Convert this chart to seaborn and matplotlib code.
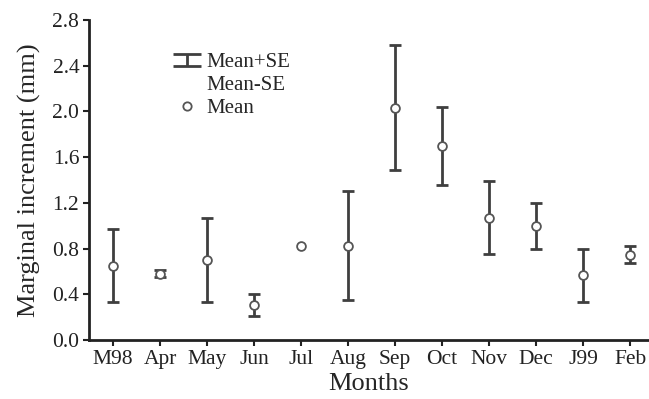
import matplotlib
matplotlib.use("Agg")
import matplotlib.pyplot as plt
import seaborn as sns
import pandas as pd
from matplotlib.lines import Line2D
from matplotlib.collections import LineCollection
from matplotlib.container import ErrorbarContainer
from matplotlib.legend_handler import HandlerErrorbar
from matplotlib.ticker import FormatStrFormatter, MultipleLocator

months = ["M98", "Apr", "May", "Jun", "Jul", "Aug", "Sep", "Oct", "Nov", "Dec", "J99", "Feb"]
mean = [0.65, 0.58, 0.70, 0.31, 0.82, 0.82, 2.03, 1.70, 1.07, 1.00, 0.57, 0.74]
upper = [0.97, 0.61, 1.07, 0.40, 0.82, 1.30, 2.58, 2.04, 1.39, 1.20, 0.80, 0.82]
lower = [0.33, 0.55, 0.33, 0.21, 0.82, 0.35, 1.49, 1.36, 0.75, 0.80, 0.335, 0.67]

df = pd.DataFrame({"month": months, "mean": mean, "upper": upper, "lower": lower})
df["x"] = range(len(df))

sns.set_style("ticks")
plt.rcParams["font.family"] = ["Liberation Serif", "DejaVu Serif"]

fig = plt.figure(figsize=(6.49, 3.99), dpi=100)
ax = fig.add_axes([89 / 649, 1 - 340 / 399, 1 - 89 / 649, 320 / 399])

gray = "#3f3f3f"
has_err = df["upper"] > df["lower"]
sub = df[has_err]
ax.errorbar(sub["x"], sub["mean"],
            yerr=[sub["mean"] - sub["lower"], sub["upper"] - sub["mean"]],
            fmt="none", ecolor=gray, elinewidth=2.0, capsize=4.5, capthick=2.0,
            zorder=2)
sns.scatterplot(data=df, x="x", y="mean", ax=ax, marker="o", s=40,
                facecolor="white", edgecolor="#555555", linewidth=1.3, zorder=3,
                legend=False)

ax.set_xlim(-0.51, 11.4)
ax.set_ylim(0, 2.8)
ax.set_xticks(df["x"])
ax.set_xticklabels(df["month"])
ax.yaxis.set_major_locator(MultipleLocator(0.4))
ax.yaxis.set_major_formatter(FormatStrFormatter("%.1f"))
ax.tick_params(axis="both", labelsize=15.5, length=4, width=1.5, colors="#222222",
               direction="out", pad=3)
for s in ["top", "right"]:
    ax.spines[s].set_visible(False)
for s in ["left", "bottom"]:
    ax.spines[s].set_linewidth(2.0)
    ax.spines[s].set_color("#222222")

ax.set_xlabel("Months", fontsize=19, labelpad=3)
ax.set_ylabel("Marginal increment (mm)", fontsize=19, labelpad=8)

# legend proxies
cap = Line2D([], [], linestyle="none", marker="_", markersize=20,
             markeredgewidth=2.0, color=gray)
bars = LineCollection([], linewidths=2.0, colors=gray)
eb_proxy = ErrorbarContainer((None, (cap, cap), (bars,)), has_xerr=False, has_yerr=True)
blank = Line2D([], [], linestyle="none")
mean_handle = Line2D([], [], linestyle="none", marker="o", markersize=6,
                     markerfacecolor="white", markeredgecolor="#555555", markeredgewidth=1.3)
ax.legend([eb_proxy, blank, mean_handle], ["Mean+SE", "Mean-SE", "Mean"],
          handler_map={eb_proxy: HandlerErrorbar(yerr_size=0.3)},
          loc="upper left", bbox_to_anchor=(0.131, 0.93), frameon=False,
          fontsize=15, handlelength=1.4, handletextpad=0.2, labelspacing=0.15,
          borderpad=0)

fig.savefig("out.png", dpi=100)
